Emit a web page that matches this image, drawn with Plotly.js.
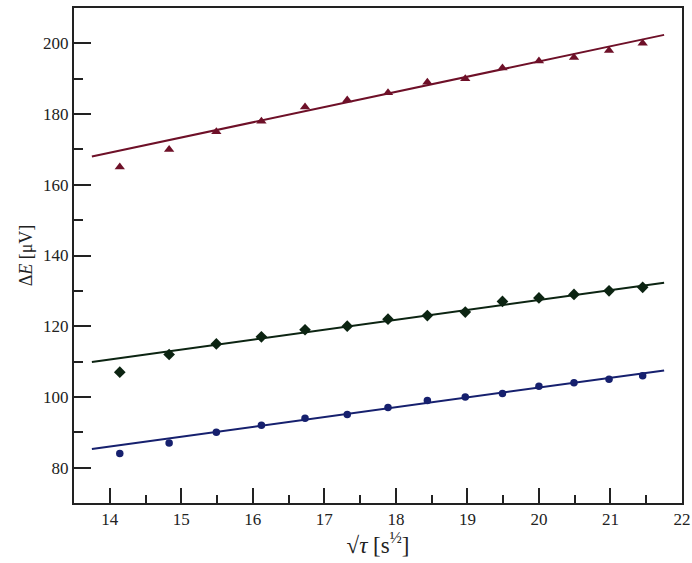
<!DOCTYPE html>
<html>
<head>
<meta charset="utf-8">
<script src="https://cdn.plot.ly/plotly-3.0.1.min.js"></script>
<style>html,body{margin:0;padding:0;background:#fff;}#chart{width:692px;height:563px;}</style>
</head>
<body>
<div id="chart"></div>
<script>
// sqrt(tau) values
const sqrtTau = [14.14, 14.83, 15.49, 16.12, 16.73, 17.32, 17.89, 18.44, 18.97, 19.49, 20.0, 20.49, 20.98, 21.45];
const redValues = [165, 170, 175, 178, 182, 184, 186, 189, 190, 193, 195, 196, 198, 200];
const greenValues = [107, 112, 115, 117, 119, 120, 122, 123, 124, 127, 128, 129, 130, 131];
const blueValues = [84, 87, 90, 92, 94, 95, 97, 99, 100, 101, 103, 104, 105, 106];
// fitted lines (endpoints)
const fitX = [13.75, 21.75];
const redFit = [168.0, 202.4];
const greenFit = [109.9, 132.3];
const blueFit = [85.3, 107.5];
const xTicks = [14, 15, 16, 17, 18, 19, 20, 21, 22];
const yTicks = [80, 100, 120, 140, 160, 180, 200];

const RED = '#6e1028', GREEN = '#0c2412', BLUE = '#16206e';
const SERIF = 'Liberation Serif, Times New Roman, serif';

const traces = [
  {x: fitX, y: redFit, mode: 'lines', line: {color: RED, width: 2}, hoverinfo: 'skip'},
  {x: fitX, y: greenFit, mode: 'lines', line: {color: GREEN, width: 2}, hoverinfo: 'skip'},
  {x: fitX, y: blueFit, mode: 'lines', line: {color: BLUE, width: 2}, hoverinfo: 'skip'},
  {x: sqrtTau, y: redValues, mode: 'markers', marker: {symbol: 'triangle-up', size: 9, color: RED}},
  {x: sqrtTau, y: greenValues, mode: 'markers', marker: {symbol: 'diamond', size: 9, color: GREEN}},
  {x: sqrtTau, y: blueValues, mode: 'markers', marker: {symbol: 'circle', size: 7.5, color: BLUE}}
];

const layout = {
  width: 692, height: 563,
  margin: {l: 74, r: 10, t: 8, b: 60},
  paper_bgcolor: '#fff', plot_bgcolor: '#fff',
  showlegend: false,
  font: {family: SERIF, color: '#222', size: 17},
  xaxis: {
    range: [13.5, 22], tickvals: xTicks, ticktext: xTicks.map(String),
    ticks: 'inside', ticklen: 15, tickwidth: 2, tickcolor: '#222',
    minor: {dtick: 1, tick0: 14.5, ticks: 'inside', ticklen: 8, tickwidth: 2, tickcolor: '#222'},
    showline: true, linecolor: '#222', linewidth: 2, mirror: true,
    showgrid: false, zeroline: false,
    tickfont: {family: SERIF, size: 17},
    title: {text: '√<i>τ</i> [s<sup>½</sup>]', font: {family: SERIF, size: 23}, standoff: 2}
  },
  yaxis: {
    range: [70, 210], tickvals: yTicks, ticktext: yTicks.map(String),
    ticks: 'inside', ticklen: 17, tickwidth: 2, tickcolor: '#222',
    minor: {dtick: 20, tick0: 70, ticks: 'inside', ticklen: 9, tickwidth: 2, tickcolor: '#222'},
    showline: true, linecolor: '#222', linewidth: 2, mirror: true,
    showgrid: false, zeroline: false,
    tickfont: {family: SERIF, size: 17},
    title: {text: 'Δ<i>E</i> [μV]', font: {family: SERIF, size: 18}, standoff: 6}
  }
};

Plotly.newPlot('chart', traces, layout, {displayModeBar: false, staticPlot: true});
</script>
</body>
</html>
